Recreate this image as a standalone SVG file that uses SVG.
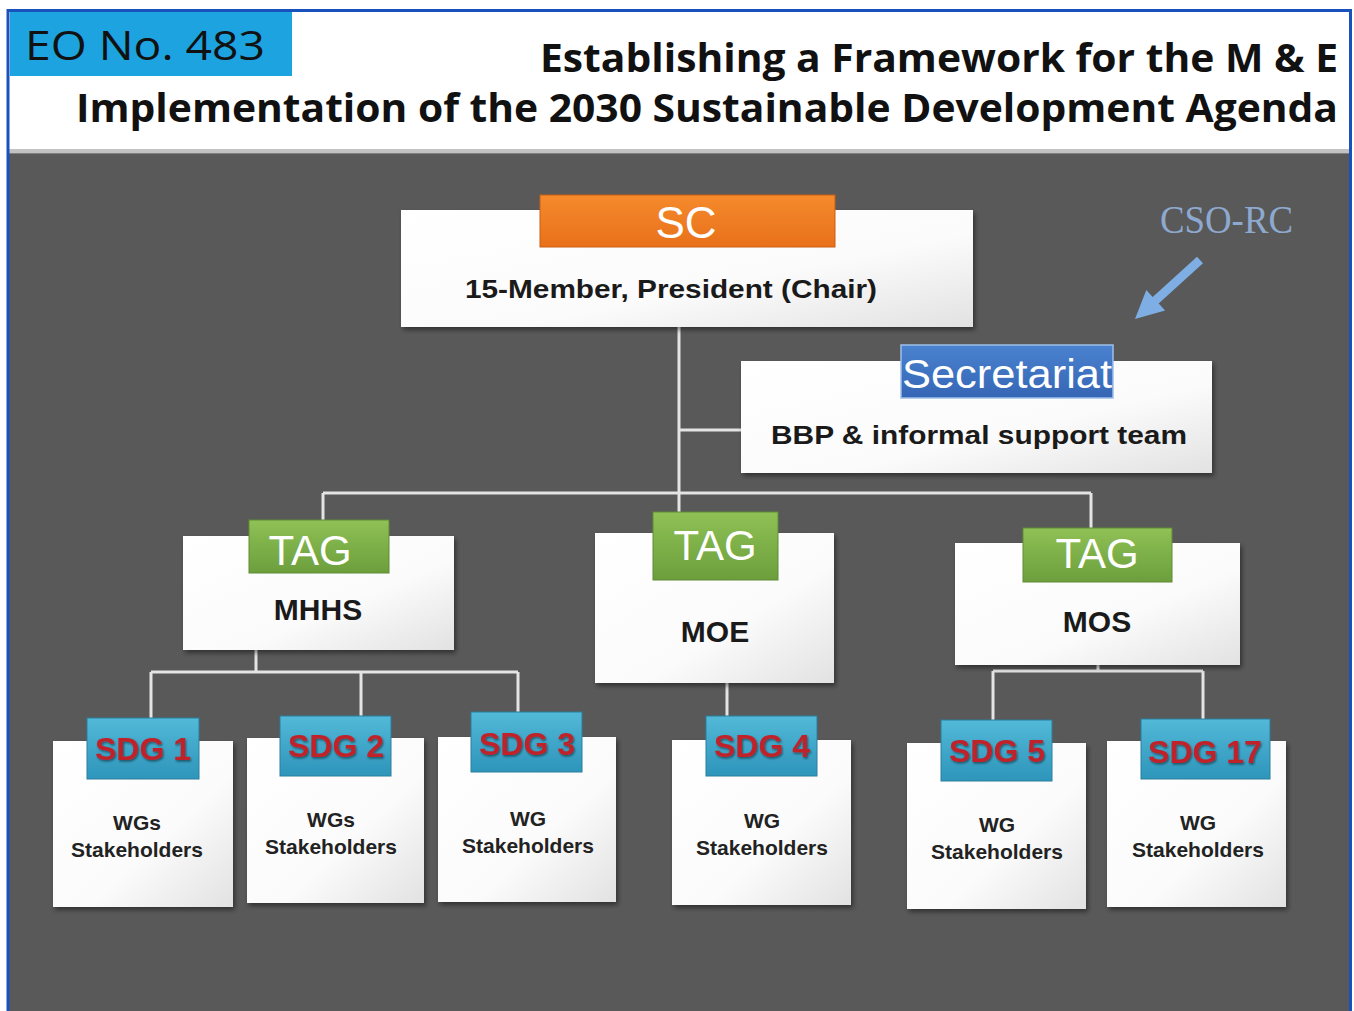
<svg xmlns="http://www.w3.org/2000/svg" width="1354" height="1011" viewBox="0 0 1354 1011">
<defs>
<linearGradient id="gBox" x1="0" y1="0" x2="1" y2="1">
<stop offset="0" stop-color="#ffffff"/><stop offset="0.6" stop-color="#fbfbfb"/><stop offset="1" stop-color="#e2e2e2"/>
</linearGradient>
<linearGradient id="gOrange" x1="0" y1="0" x2="0" y2="1">
<stop offset="0" stop-color="#f58a2c"/><stop offset="1" stop-color="#e8701a"/>
</linearGradient>
<linearGradient id="gGreen" x1="0" y1="0" x2="0" y2="1">
<stop offset="0" stop-color="#8fc156"/><stop offset="1" stop-color="#6c9e3c"/>
</linearGradient>
<linearGradient id="gTeal" x1="0" y1="0" x2="0" y2="1">
<stop offset="0" stop-color="#52b9d8"/><stop offset="1" stop-color="#2e95bb"/>
</linearGradient>
<linearGradient id="gBlue" x1="0" y1="0" x2="0" y2="1">
<stop offset="0" stop-color="#4a82cf"/><stop offset="1" stop-color="#3566b5"/>
</linearGradient>
<filter id="sh" x="-10%" y="-10%" width="125%" height="125%">
<feDropShadow dx="2" dy="3" stdDeviation="2.5" flood-color="#000" flood-opacity="0.45"/>
</filter>
<filter id="tsh" x="-10%" y="-10%" width="125%" height="130%">
<feDropShadow dx="1" dy="1.5" stdDeviation="0.8" flood-color="#000" flood-opacity="0.5"/>
</filter>
<style>
.box{fill:url(#gBox);filter:url(#sh);}
.tagG{fill:url(#gGreen);stroke:#5f8c34;stroke-width:1;}
.tagT{fill:url(#gTeal);stroke:#2a7f9e;stroke-width:1;}
.tagW{font-family:"Liberation Sans",Arial,sans-serif;fill:#ffffff;text-anchor:middle;}
.lbl{font-family:"Liberation Sans",Arial,sans-serif;font-weight:bold;fill:#1a1a1a;text-anchor:middle;}
.sdg{font-family:"Liberation Sans",Arial,sans-serif;font-weight:bold;fill:#c0242b;text-anchor:middle;font-size:32px;filter:url(#tsh);}
.small{font-family:"Liberation Sans",Arial,sans-serif;font-weight:bold;fill:#222;text-anchor:middle;font-size:21px;}
.conn{stroke:#e4e4e4;stroke-width:3;fill:none;}
.title{font-family:"Open Sans","Liberation Sans",sans-serif;font-weight:bold;fill:#111;font-size:40px;}
</style>
</defs>

<rect x="0" y="0" width="1354" height="1011" fill="#ffffff"/>
<rect x="8" y="153" width="1342" height="858" fill="#595959"/>
<rect x="8" y="149" width="1342" height="5" fill="#9a9a9a" opacity="0.6"/>
<path d="M8 1011 V10.5 H1350.5 V1011" fill="none" stroke="#1a52bd" stroke-width="3"/>

<g id="header">
<rect x="10" y="12" width="282" height="64" fill="#1ca3e0"/>
<text x="25" y="60" font-family="'Open Sans','Liberation Sans',sans-serif" font-size="40" fill="#111" textLength="240" lengthAdjust="spacingAndGlyphs">EO No. 483</text>
<text class="title" x="540" y="72" textLength="798" lengthAdjust="spacingAndGlyphs">Establishing a Framework for the M &amp; E</text>
<text class="title" x="76" y="122" textLength="1262" lengthAdjust="spacingAndGlyphs">Implementation of the 2030 Sustainable Development Agenda</text>
</g>

<g id="connectors">
<path class="conn" d="M679 327 V512"/>
<path class="conn" d="M679 430 H741"/>
<path class="conn" d="M323 493 H1091"/>
<path class="conn" d="M323 493 V520"/>
<path class="conn" d="M1091 493 V530"/>
<path class="conn" d="M256 650 V672"/>
<path class="conn" d="M151 672 H518"/>
<path class="conn" d="M151 672 V718"/>
<path class="conn" d="M361 672 V716"/>
<path class="conn" d="M518 672 V712"/>
<path class="conn" d="M727 683 V716"/>
<path class="conn" d="M1098 665 V671"/>
<path class="conn" d="M993 671 H1203"/>
<path class="conn" d="M993 671 V720"/>
<path class="conn" d="M1203 671 V719"/>
</g>

<g id="cso-rc">
<text x="1160" y="233" font-family="'Liberation Serif','Times New Roman',serif" font-size="40" fill="#8ea9cf" textLength="133" lengthAdjust="spacingAndGlyphs">CSO-RC</text>
<polygon points="1197,256.7 1152.7,296.9 1146.3,289.9 1135,319 1165.1,310.5 1158.7,303.5 1203,263.3" fill="#7eaee3"/>
</g>

<g id="sc">
<rect class="box" x="401" y="210" width="572" height="117"/>
<rect x="540" y="195" width="295" height="52" fill="url(#gOrange)" stroke="#c95f12" stroke-width="1"/>
<text class="tagW" x="686" y="238" font-size="44">SC</text>
<text class="lbl" x="671" y="298" font-size="26" textLength="412" lengthAdjust="spacingAndGlyphs">15-Member, President (Chair)</text>
</g>

<g id="secretariat">
<rect class="box" x="741" y="361" width="471" height="112"/>
<rect x="901" y="345" width="212" height="53" fill="url(#gBlue)" stroke="#9fc0ea" stroke-width="1.5"/>
<text class="tagW" x="1007" y="388" font-size="40" textLength="210" lengthAdjust="spacingAndGlyphs">Secretariat</text>
<text class="lbl" x="979" y="444" font-size="26" textLength="416" lengthAdjust="spacingAndGlyphs">BBP &amp; informal support team</text>
</g>

<g id="tag-mhhs">
<rect class="box" x="183" y="536" width="271" height="114"/>
<rect class="tagG" x="249" y="520" width="140" height="53"/>
<text class="tagW" x="310" y="565" font-size="42">TAG</text>
<text class="lbl" x="318" y="620" font-size="30">MHHS</text>
</g>

<g id="tag-moe">
<rect class="box" x="595" y="533" width="239" height="150"/>
<rect class="tagG" x="653" y="512" width="125" height="68"/>
<text class="tagW" x="715" y="560" font-size="42">TAG</text>
<text class="lbl" x="715" y="642" font-size="30">MOE</text>
</g>

<g id="tag-mos">
<rect class="box" x="955" y="543" width="285" height="122"/>
<rect class="tagG" x="1023" y="528" width="149" height="54"/>
<text class="tagW" x="1097" y="568" font-size="42">TAG</text>
<text class="lbl" x="1097" y="632" font-size="30">MOS</text>
</g>

<g id="sdg1">
<rect class="box" x="53" y="741" width="180" height="166"/>
<rect class="tagT" x="87" y="718" width="112" height="61"/>
<text class="sdg" x="143" y="760">SDG 1</text>
<text class="small" x="137" y="830">WGs</text>
<text class="small" x="137" y="857">Stakeholders</text>
</g>

<g id="sdg2">
<rect class="box" x="247" y="738" width="177" height="165"/>
<rect class="tagT" x="280" y="716" width="111" height="60"/>
<text class="sdg" x="336" y="757">SDG 2</text>
<text class="small" x="331" y="827">WGs</text>
<text class="small" x="331" y="854">Stakeholders</text>
</g>

<g id="sdg3">
<rect class="box" x="438" y="737" width="178" height="165"/>
<rect class="tagT" x="471" y="712" width="111" height="60"/>
<text class="sdg" x="527" y="755">SDG 3</text>
<text class="small" x="528" y="826">WG</text>
<text class="small" x="528" y="853">Stakeholders</text>
</g>

<g id="sdg4">
<rect class="box" x="672" y="740" width="179" height="165"/>
<rect class="tagT" x="706" y="716" width="111" height="60"/>
<text class="sdg" x="762" y="757">SDG 4</text>
<text class="small" x="762" y="828">WG</text>
<text class="small" x="762" y="855">Stakeholders</text>
</g>

<g id="sdg5">
<rect class="box" x="907" y="743" width="179" height="166"/>
<rect class="tagT" x="941" y="720" width="111" height="61"/>
<text class="sdg" x="997" y="762">SDG 5</text>
<text class="small" x="997" y="832">WG</text>
<text class="small" x="997" y="859">Stakeholders</text>
</g>

<g id="sdg17">
<rect class="box" x="1107" y="741" width="179" height="166"/>
<rect class="tagT" x="1141" y="719" width="129" height="60"/>
<text class="sdg" x="1205" y="763">SDG 17</text>
<text class="small" x="1198" y="830">WG</text>
<text class="small" x="1198" y="857">Stakeholders</text>
</g>
</svg>
